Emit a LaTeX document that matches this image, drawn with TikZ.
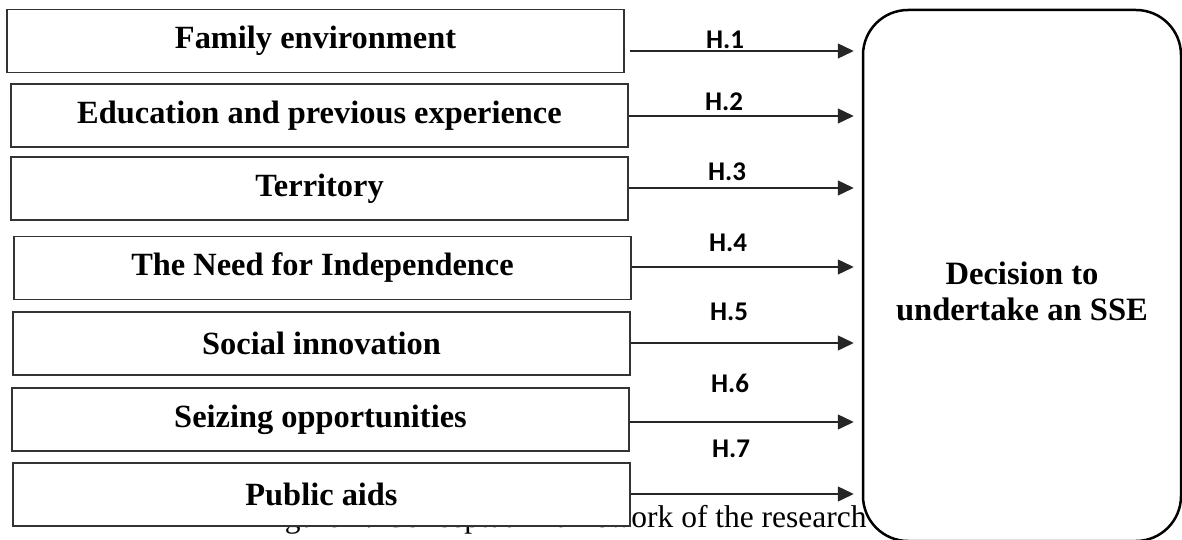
\documentclass[tikz,border=0pt]{standalone}
\usepackage{fontspec}
\setmainfont{Liberation Serif}
\newfontfamily\hypfont{Carlito}
\usetikzlibrary{arrows.meta}
\begin{document}
\begin{tikzpicture}[x=0.5pt,y=-0.5pt,
	factor/.style={draw=black!80,line width=0.65pt,fill=white,minimum width=308.5pt,minimum height=31.5pt,inner sep=0pt,font=\fontsize{16.2}{20}\selectfont\bfseries},
	decision/.style={draw=black,line width=1.25pt,rounded corners=22.5pt,minimum width=159pt,minimum height=265.5pt,inner sep=0pt},
	hyp/.style={-{Triangle[length=8pt,width=7.5pt]},draw=black!85,line width=0.7pt},
	hlabel/.style={inner sep=0pt,font=\hypfont\fontsize{13.5}{16}\selectfont\bfseries}]
	\useasboundingbox (0,0) rectangle (1182,540);
	\node[anchor=base east,inner sep=0pt,font=\fontsize{15.75}{20}\selectfont] (caption) at (867,527) {Figure 1: Conceptual framework of the research};
	\foreach \i/\cx/\cy/\txt in {1/315.5/41/Family environment,
		2/319.5/115.5/Education and previous experience,
		3/319.5/188.5/Territory,
		4/322.5/268/The Need for Independence,
		5/321.5/343.5/Social innovation,
		6/320.5/419.5/Seizing opportunities,
		7/321.5/494.5/Public aids}
		\node[factor] (f\i) at (\cx,\cy) {\txt};
	\node[decision] (dec) at (1022,275.5) {};
	\node[align=center,inner sep=0pt,font=\fontsize{16.3}{18}\selectfont\bfseries] (dectext) at (1022,291) {Decision to\\undertake an SSE};
	\foreach \i/\ay/\lx/\ly/\gap in {1/51/725/40/2.5pt,2/116/724/102/0pt,3/188/727/172/0pt,4/267/728/243/0pt,5/343/729/312/0pt,6/422/730/383/0pt,7/494/731/449/0pt}
	{
		\coordinate (y\i) at (0,\ay);
		\draw[hyp,shorten <=\gap,shorten >=4pt] (f\i.east |- y\i) -- (dec.west |- y\i);
		\node[hlabel] (h\i) at (\lx,\ly) {H.\i};
	}
\end{tikzpicture}
\end{document}
